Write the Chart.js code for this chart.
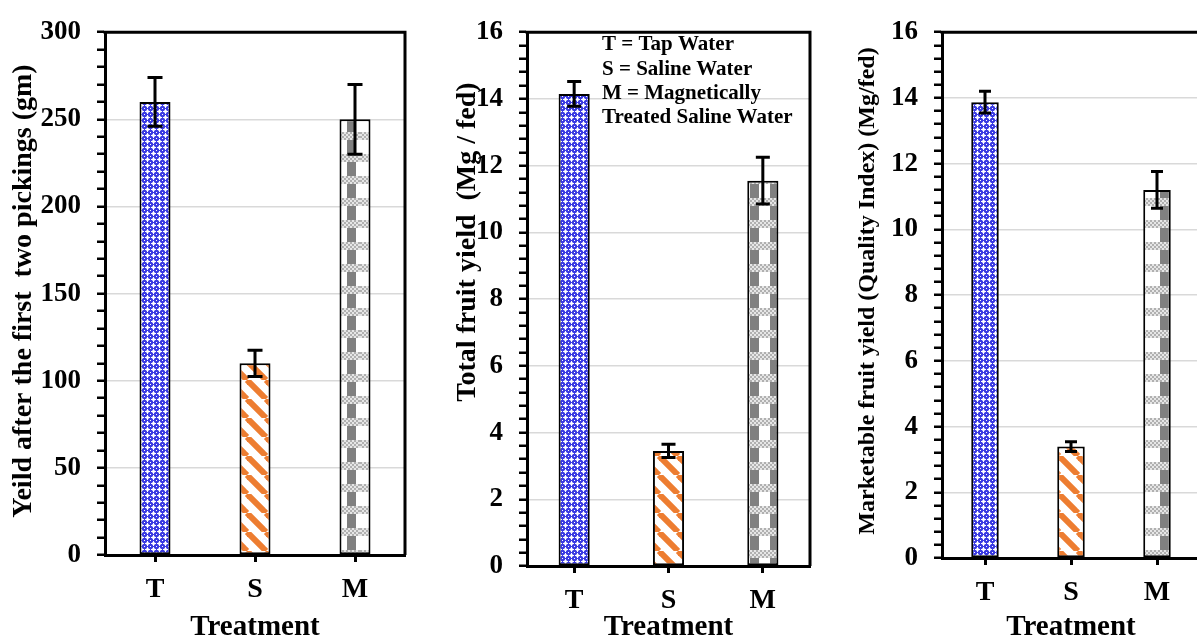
<!DOCTYPE html>
<html>
<head>
<meta charset="utf-8">
<script src="https://cdn.jsdelivr.net/npm/chart.js@4.4.0/dist/chart.umd.min.js"></script>
<style>
  html, body { margin: 0; padding: 0; background: #fff; overflow: hidden; width: 1197px; height: 639px; }
  canvas { position: absolute; top: 0; }
  #c1 { left: 0; }
  #c2 { left: 412px; }
  #c3 { left: 812px; }
</style>
</head>
<body>
<canvas id="c1" width="412" height="639"></canvas>
<canvas id="c2" width="400" height="639"></canvas>
<canvas id="c3" width="390" height="639"></canvas>
<script>
const treatments = ['T', 'S', 'M'];

const firstPickings = [260, 110, 250];
const firstPickingsErr = [14, 7.5, 20];

const totalYield = [14.15, 3.45, 11.55];
const totalYieldErr = [0.37, 0.2, 0.7];

const marketYield = [13.87, 3.39, 11.2];
const marketYieldErr = [0.33, 0.15, 0.56];

const legendLines = ['T = Tap Water', 'S = Saline Water', 'M = Magnetically', 'Treated Saline Water'];

const FONT = "'Liberation Serif', 'Times New Roman', serif";
Chart.defaults.font.family = FONT;
Chart.defaults.font.weight = 'bold';
Chart.defaults.color = '#000';

function tile(w, h, draw) {
  const c = document.createElement('canvas');
  c.width = w;
  c.height = h;
  draw(c.getContext('2d'));
  return c;
}

// blue with white crosses (dotted diamond look)
function bluePattern(ctx) {
  const t = tile(6, 6, g => {
    g.fillStyle = '#3c3ce2';
    g.fillRect(0, 0, 6, 6);
    g.fillStyle = '#b8b8f6';
    g.fillRect(2, 2, 3, 3);
    g.fillStyle = '#ffffff';
    g.fillRect(3, 1, 1, 5);
    g.fillRect(1, 3, 5, 1);
    g.fillRect(0, 0, 1, 1);
  });
  return ctx.createPattern(t, 'repeat');
}

// orange wide downward diagonal
function stripePattern(ctx) {
  const p = 19;
  const t = tile(p, p, g => {
    g.fillStyle = '#fff';
    g.fillRect(0, 0, p, p);
    g.strokeStyle = '#ed7d31';
    g.lineWidth = 6;
    [-p, 0, p].forEach(o => {
      g.beginPath();
      g.moveTo(o, 0);
      g.lineTo(o + p, p);
      g.stroke();
    });
  });
  return ctx.createPattern(t, 'repeat');
}

// grey column + light checker bands
function gridPattern(ctx, w, darkX) {
  const h = 22;
  const t = tile(w, h, g => {
    g.fillStyle = '#fff';
    g.fillRect(0, 0, w, h);
    g.fillStyle = '#808080';
    g.fillRect(darkX, 0, 9, h);
    g.fillRect(darkX - w, 0, 9, h);
    for (let y = 0; y < 8; y += 2) {
      for (let x = 0; x < w; x += 2) {
        g.fillStyle = ((x + y) / 2) % 2 ? '#e6e6e6' : '#b0b0b0';
        g.fillRect(x, y, 2, 2);
      }
    }
  });
  return ctx.createPattern(t, 'repeat');
}

const errBars = {
  id: 'errBars',
  afterDatasetsDraw(chart, args, o) {
    const { ctx } = chart;
    const y = chart.scales.y;
    const vals = chart.data.datasets[0].data;
    ctx.save();
    ctx.strokeStyle = '#000';
    ctx.lineWidth = 3;
    chart.getDatasetMeta(0).data.forEach((bar, i) => {
      const hi = y.getPixelForValue(vals[i] + o.errors[i]);
      const lo = y.getPixelForValue(vals[i] - o.errors[i]);
      ctx.beginPath();
      ctx.moveTo(bar.x, hi); ctx.lineTo(bar.x, lo);
      ctx.moveTo(bar.x - o.cap, hi); ctx.lineTo(bar.x + o.cap, hi);
      ctx.moveTo(bar.x - o.cap, lo); ctx.lineTo(bar.x + o.cap, lo);
      ctx.stroke();
    });
    ctx.restore();
  }
};

const frame = {
  id: 'frame',
  afterDraw(chart) {
    const { ctx, chartArea: a } = chart;
    ctx.save();
    ctx.strokeStyle = '#000';
    ctx.lineWidth = 3;
    ctx.beginPath();
    ctx.moveTo(a.left - 1.5, a.top);
    ctx.lineTo(a.right, a.top);
    ctx.lineTo(a.right, a.bottom);
    ctx.stroke();
    ctx.restore();
  }
};

const sideTitle = {
  id: 'sideTitle',
  afterDraw(chart, args, o) {
    const { ctx } = chart;
    ctx.save();
    ctx.translate(o.x, o.y);
    ctx.rotate(-Math.PI / 2);
    ctx.font = `bold ${o.size}px ${FONT}`;
    ctx.fillStyle = '#000';
    ctx.textAlign = 'center';
    ctx.textBaseline = 'middle';
    ctx.fillText(o.text, 0, 0);
    ctx.restore();
  }
};

const notes = {
  id: 'notes',
  afterDraw(chart, args, o) {
    if (!o.lines) return;
    const { ctx } = chart;
    ctx.save();
    ctx.font = `bold ${o.size}px ${FONT}`;
    ctx.fillStyle = '#000';
    ctx.textBaseline = 'middle';
    o.lines.forEach((t, i) => ctx.fillText(t, o.x, o.y + i * o.dy));
    ctx.restore();
  }
};

const isMajor = (v, m) => Math.abs(v / m - Math.round(v / m)) < 1e-6;

function makeChart(id, opts) {
  const ctx = document.getElementById(id).getContext('2d');
  return new Chart(ctx, {
    type: 'bar',
    data: {
      labels: treatments,
      datasets: [{
        data: opts.values,
        backgroundColor: [bluePattern(ctx), stripePattern(ctx), gridPattern(ctx, opts.gridW, opts.darkX)],
        borderColor: '#000',
        borderWidth: 2,
        borderSkipped: false,
        barPercentage: opts.barPct,
        categoryPercentage: 1
      }]
    },
    options: {
      responsive: false,
      animation: false,
      layout: { padding: { top: opts.top, right: opts.right, left: 0, bottom: 0 } },
      plugins: {
        legend: { display: false },
        tooltip: { enabled: false },
        errBars: { errors: opts.errors, cap: opts.cap },
        sideTitle: opts.title,
        notes: opts.notes || {}
      },
      scales: {
        x: {
          grid: { offset: false, drawOnChartArea: false, tickLength: 7, tickWidth: 3, tickColor: '#000' },
          border: { color: '#000', width: 3 },
          ticks: { font: { size: 28 }, padding: 11 },
          title: { display: true, text: 'Treatment', font: { size: 29, lineHeight: 0.8 }, padding: 0 },
          afterFit: s => { s.height = opts.xh; }
        },
        y: {
          min: 0,
          max: opts.max,
          ticks: {
            stepSize: opts.step,
            autoSkip: false,
            font: { size: 27 },
            padding: 16,
            callback: v => isMajor(v, opts.major) ? String(Math.round(v)) : ''
          },
          grid: {
            color: c => isMajor(c.tick.value, opts.major) ? '#d9d9d9' : 'rgba(0,0,0,0)',
            lineWidth: 1.5,
            tickLength: 8,
            tickWidth: 2.5,
            tickColor: '#000'
          },
          border: { color: '#000', width: 3 },
          afterFit: s => { s.width = opts.yw; }
        }
      }
    },
    plugins: [errBars, frame, sideTitle, notes]
  });
}

makeChart('c1', {
  values: firstPickings, errors: firstPickingsErr, cap: 7.5,
  max: 300, step: 10, major: 50,
  top: 32, right: 7, yw: 105, xh: 84, barPct: 0.31,
  gridW: 30, darkX: 17,
  title: { text: 'Yeild after the first  two pickings (gm)', x: 24, y: 291, size: 28 }
});

makeChart('c2', {
  values: totalYield, errors: totalYieldErr, cap: 7,
  max: 16, step: 0.4, major: 2,
  top: 24, right: 2, yw: 115, xh: 73, barPct: 0.33,
  gridW: 20, darkX: 18,
  title: { text: 'Total fruit yield  (Mg / fed)', x: 56, y: 242, size: 28 },
  notes: { lines: legendLines, x: 190, y: 45, dy: 24.3, size: 21 }
});

makeChart('c3', {
  values: marketYield, errors: marketYieldErr, cap: 6,
  max: 16, step: 0.4, major: 2,
  top: 24, right: 2, yw: 130, xh: 81, barPct: 0.32,
  gridW: 30, darkX: 18,
  title: { text: 'Marketable fruit yield (Quality Index) (Mg/fed)', x: 56, y: 291, size: 24 }
});
</script>
</body>
</html>
